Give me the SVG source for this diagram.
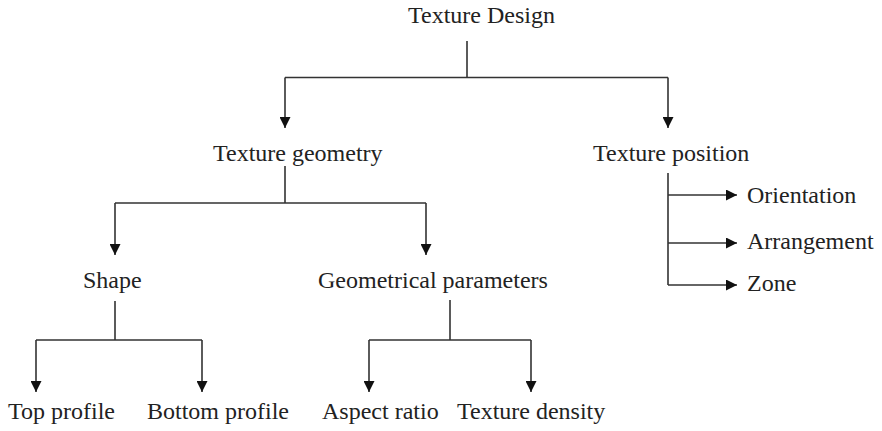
<svg xmlns="http://www.w3.org/2000/svg" width="882" height="431" viewBox="0 0 882 431">
  <style>
    .lbl { font-family: "Liberation Serif", "Times New Roman", serif; font-size: 24px; fill: #222; }
    .ln { fill: none; stroke: #333; stroke-width: 1.6; }
  </style>
  <defs>
    <marker id="arr" viewBox="0 0 10 10" refX="10" refY="5" markerWidth="11" markerHeight="11" markerUnits="userSpaceOnUse" orient="auto">
      <path d="M0,0 L10,5 L0,10 z" fill="#111"/>
    </marker>
  </defs>
  <rect width="882" height="431" fill="#fff"/>
  <g id="connectors">
    <path class="ln" d="M467,41 V77.5 M285,77.5 H668"/>
    <path class="ln" d="M285,77.5 V128" marker-end="url(#arr)"/>
    <path class="ln" d="M668,77.5 V128" marker-end="url(#arr)"/>
    <path class="ln" d="M285,166 V203 M115,203 H426"/>
    <path class="ln" d="M115,203 V255" marker-end="url(#arr)"/>
    <path class="ln" d="M426,203 V255" marker-end="url(#arr)"/>
    <path class="ln" d="M115,301 V340 M36,340 H202"/>
    <path class="ln" d="M36,340 V392" marker-end="url(#arr)"/>
    <path class="ln" d="M202,340 V392" marker-end="url(#arr)"/>
    <path class="ln" d="M450,300 V340 M369,340 H531"/>
    <path class="ln" d="M369,340 V392" marker-end="url(#arr)"/>
    <path class="ln" d="M531,340 V392" marker-end="url(#arr)"/>
    <path class="ln" d="M668,173 V285"/>
    <path class="ln" d="M668,195 H737" marker-end="url(#arr)"/>
    <path class="ln" d="M668,243 H737" marker-end="url(#arr)"/>
    <path class="ln" d="M668,285 H737" marker-end="url(#arr)"/>
  </g>
  <g id="texture-design"><text class="lbl" x="408" y="22.5">Texture Design</text></g>
  <g id="texture-geometry"><text class="lbl" x="213" y="161">Texture geometry</text></g>
  <g id="texture-position"><text class="lbl" x="593" y="161">Texture position</text></g>
  <g id="shape"><text class="lbl" x="83" y="288">Shape</text></g>
  <g id="geometrical-parameters"><text class="lbl" x="318" y="288">Geometrical parameters</text></g>
  <g id="orientation"><text class="lbl" x="747" y="203">Orientation</text></g>
  <g id="arrangement"><text class="lbl" x="747" y="249">Arrangement</text></g>
  <g id="zone"><text class="lbl" x="747" y="291">Zone</text></g>
  <g id="top-profile"><text class="lbl" x="8" y="419">Top profile</text></g>
  <g id="bottom-profile"><text class="lbl" x="147" y="419">Bottom profile</text></g>
  <g id="aspect-ratio"><text class="lbl" x="322" y="419">Aspect ratio</text></g>
  <g id="texture-density"><text class="lbl" x="457" y="419">Texture density</text></g>
</svg>
